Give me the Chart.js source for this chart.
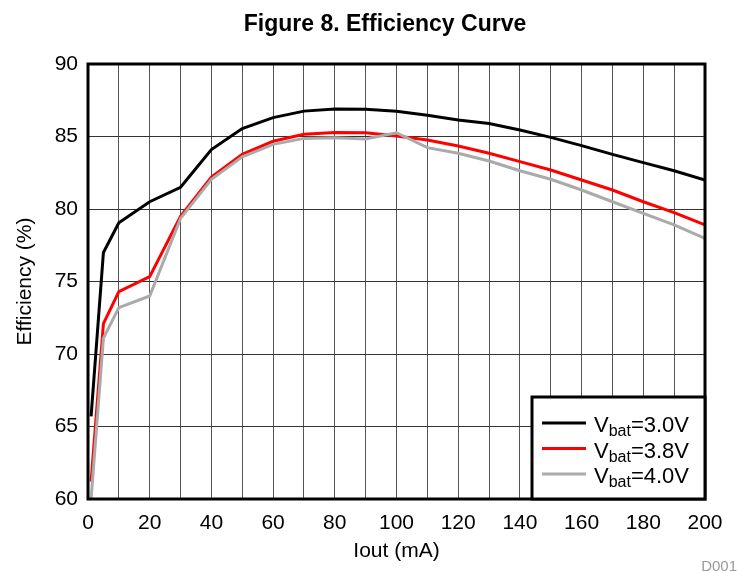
<!DOCTYPE html>
<html>
<head>
<meta charset="utf-8">
<script src="https://cdn.jsdelivr.net/npm/chart.js@4.4.0/dist/chart.umd.min.js"></script>
<style>
  body { margin: 0; background: #fff; }
  #wrap { width: 737px; height: 571px; }
</style>
</head>
<body>
<div id="wrap"><canvas id="myChart" width="737" height="571"></canvas></div>
<script>
// Data
var ioutMA = [1, 5, 10, 20, 30, 40, 50, 60, 70, 80, 90, 100, 110, 120, 130, 140, 150, 160, 170, 180, 190, 200];
var eff30 = [65.7, 77.0, 79.05, 80.5, 81.5, 84.1, 85.55, 86.3, 86.75, 86.9, 86.88, 86.74, 86.46, 86.14, 85.9, 85.45, 84.94, 84.37, 83.77, 83.2, 82.64, 82.0];
var eff38 = [61.2, 72.1, 74.3, 75.33, 79.5, 82.2, 83.77, 84.67, 85.15, 85.27, 85.26, 85.03, 84.76, 84.34, 83.84, 83.27, 82.69, 82.0, 81.31, 80.5, 79.75, 78.9];
var eff40 = [60.0, 71.1, 73.2, 74.0, 79.35, 82.05, 83.6, 84.46, 84.87, 84.92, 84.83, 85.26, 84.23, 83.84, 83.31, 82.64, 82.05, 81.31, 80.5, 79.7, 78.9, 77.98];
var vbatLabels = ['3.0V', '3.8V', '4.0V'];
var lineColors = ['#000000', '#ff0000', '#aaaaaa'];

var FONT = '"Liberation Sans", Arial, sans-serif';

function toPoints(ys) {
    return ioutMA.map(function (x, i) { return { x: x, y: ys[i] }; });
}

var series = [eff30, eff38, eff40];
var datasets = series.map(function (ys, i) {
    return {
        label: 'Vbat=' + vbatLabels[i],
        data: toPoints(ys),
        borderColor: lineColors[i],
        backgroundColor: lineColors[i],
        borderWidth: 3,
        pointRadius: 0,
        tension: 0,
        fill: false
    };
});
// draw gray first, black on top
datasets.reverse();

// Frame, title, legend box with subscripts and the D001 tag
var decorations = {
    id: 'decorations',
    afterDatasetsDraw: function (chart) {
        var ctx = chart.ctx, a = chart.chartArea;
        ctx.save();
        ctx.strokeStyle = '#000';
        ctx.lineWidth = 3;
        ctx.strokeRect(a.left, a.top, a.right - a.left, a.bottom - a.top);

        // legend box in the lower right corner
        var bx = 532, by = 397, bw = a.right - bx, bh = a.bottom - by;
        ctx.fillStyle = '#fff';
        ctx.fillRect(bx, by, bw, bh);
        ctx.lineWidth = 3;
        ctx.strokeRect(bx, by, bw, bh);

        for (var i = 0; i < vbatLabels.length; i++) {
            var y = 423 + i * 25.5;
            ctx.strokeStyle = lineColors[i];
            ctx.lineWidth = 3;
            ctx.beginPath();
            ctx.moveTo(542, y);
            ctx.lineTo(586, y);
            ctx.stroke();

            ctx.fillStyle = '#000';
            ctx.textBaseline = 'alphabetic';
            ctx.textAlign = 'left';
            ctx.font = '22px ' + FONT;
            var x = 594;
            ctx.fillText('V', x, y + 9);
            x += ctx.measureText('V').width;
            ctx.font = '16px ' + FONT;
            ctx.fillText('bat', x, y + 13);
            x += ctx.measureText('bat').width;
            ctx.font = '22px ' + FONT;
            ctx.fillText('=' + vbatLabels[i], x, y + 9);
        }

        // title
        ctx.fillStyle = '#000';
        ctx.textAlign = 'center';
        ctx.textBaseline = 'alphabetic';
        ctx.font = 'bold 23px ' + FONT;
        ctx.fillText('Figure 8. Efficiency Curve', 385, 31);

        // figure tag
        ctx.fillStyle = '#999';
        ctx.textAlign = 'right';
        ctx.font = '15px ' + FONT;
        ctx.fillText('D001', 737, 571);
        ctx.restore();
    }
};

function createChart() {
    var ctx = document.getElementById('myChart').getContext('2d');
    new Chart(ctx, {
        type: 'line',
        data: { datasets: datasets },
        options: {
            responsive: false,
            animation: false,
            layout: { padding: { top: 64, right: 32, left: 0, bottom: 0 } },
            plugins: {
                legend: { display: false },
                title: { display: false },
                tooltip: { enabled: false }
            },
            scales: {
                x: {
                    type: 'linear',
                    min: 0,
                    max: 200,
                    afterFit: function (scale) { scale.height = 72; },
                    border: { display: false },
                    grid: { color: '#555', lineWidth: 1, drawTicks: false },
                    ticks: {
                        stepSize: 10,
                        autoSkip: false,
                        maxRotation: 0,
                        padding: 12,
                        color: '#000',
                        font: { family: FONT, size: 21 },
                        callback: function (v) { return v % 20 === 0 ? v : ''; }
                    },
                    title: {
                        display: true,
                        text: 'Iout (mA)',
                        color: '#000',
                        font: { family: FONT, size: 21 },
                        padding: { top: 0, bottom: 7 }
                    }
                },
                y: {
                    min: 60,
                    max: 90,
                    afterFit: function (scale) { scale.width = 88; },
                    border: { display: false },
                    grid: { color: '#333', lineWidth: 1, drawTicks: false },
                    ticks: {
                        stepSize: 5,
                        padding: 10,
                        color: '#000',
                        font: { family: FONT, size: 21 }
                    },
                    title: {
                        display: true,
                        text: 'Efficiency (%)',
                        color: '#000',
                        font: { family: FONT, size: 21 },
                        padding: { top: 13, bottom: 0 }
                    }
                }
            }
        },
        plugins: [decorations]
    });
}

document.addEventListener('DOMContentLoaded', function () {
    createChart();
});
</script>
</body>
</html>
